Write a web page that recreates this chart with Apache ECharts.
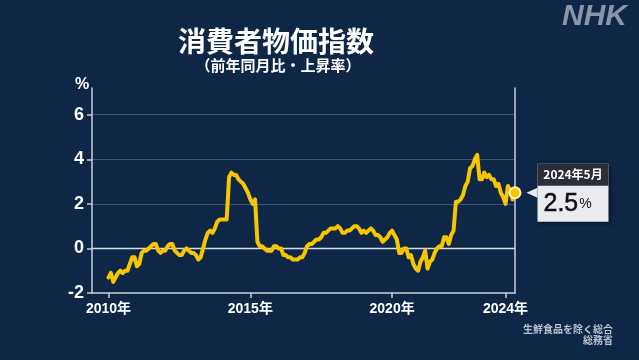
<!DOCTYPE html>
<html><head><meta charset="utf-8">
<script src="https://cdn.jsdelivr.net/npm/echarts@6/dist/echarts.min.js"></script>
<style>html,body{margin:0;padding:0;background:#0f2747;}#c{width:639px;height:360px;}</style>
</head><body><div id="c"></div>
<script>
// Core CPI (excluding fresh food), year-on-year %, monthly from Jan 2010
const cpi2010 = [-1.3, -1.1, -1.5, -1.3, -1.1, -1.0, -1.1, -1.0, -1.0, -0.7, -0.4, -0.4];
const cpi2011 = [-0.8, -0.7, -0.2, -0.1, -0.1, 0.0, 0.1, 0.2, 0.2, -0.1, -0.2, -0.1];
const cpi2012 = [-0.1, 0.1, 0.2, 0.2, -0.1, -0.2, -0.3, -0.3, -0.1, 0.0, -0.1, -0.2];
const cpi2013 = [-0.2, -0.3, -0.5, -0.4, 0.0, 0.4, 0.7, 0.8, 0.7, 0.9, 1.2, 1.3];
const cpi2014 = [1.3, 1.3, 1.3, 3.2, 3.4, 3.3, 3.3, 3.1, 3.0, 2.9, 2.7, 2.5];
const cpi2015 = [2.2, 2.0, 2.2, 0.3, 0.1, 0.1, 0.0, -0.1, -0.1, -0.1, 0.1, 0.1];
const cpi2016 = [0.0, 0.0, -0.3, -0.3, -0.4, -0.4, -0.5, -0.5, -0.5, -0.4, -0.4, -0.2];
const cpi2017 = [0.1, 0.2, 0.2, 0.3, 0.4, 0.4, 0.5, 0.7, 0.7, 0.8, 0.9, 0.9];
const cpi2018 = [0.9, 1.0, 0.9, 0.7, 0.7, 0.8, 0.8, 0.9, 1.0, 1.0, 0.9, 0.7];
const cpi2019 = [0.8, 0.7, 0.8, 0.9, 0.8, 0.6, 0.6, 0.5, 0.3, 0.4, 0.5, 0.7];
const cpi2020 = [0.8, 0.6, 0.4, -0.2, -0.2, 0.0, 0.0, -0.4, -0.3, -0.7, -0.9, -1.0];
const cpi2021 = [-0.6, -0.4, -0.1, -0.9, -0.6, -0.5, -0.2, 0.0, 0.1, 0.1, 0.5, 0.5];
const cpi2022 = [0.2, 0.6, 0.8, 2.1, 2.1, 2.2, 2.4, 2.8, 3.0, 3.6, 3.7, 4.0];
const cpi2023 = [4.2, 3.1, 3.1, 3.4, 3.2, 3.3, 3.1, 3.1, 2.8, 2.9, 2.5, 2.3];
const cpi2024 = [2.0, 2.8, 2.6, 2.2, 2.5];

const startYear = 2010;
const tickYears = [2010, 2015, 2020, 2024];
const yTicks = [-2, 0, 2, 4, 6];
const lastLabel = '2024年5月';
const titleText = '消費者物価指数';
const subtitleText = '（前年同月比・上昇率）';
const sourceText = '生鮮食品を除く総合\n総務省';

const values = [].concat(cpi2010, cpi2011, cpi2012, cpi2013, cpi2014, cpi2015, cpi2016,
  cpi2017, cpi2018, cpi2019, cpi2020, cpi2021, cpi2022, cpi2023, cpi2024);
const lastIdx = values.length - 1;
const lastVal = values[lastIdx];
const xMin = -7;

const FONT = '"Liberation Sans", "Noto Sans CJK JP", sans-serif';
const JP = '"Noto Sans CJK JP", sans-serif';
const yellow = '#f7c600';
const axisColor = '#c8cfd9';

const chart = echarts.init(document.getElementById('c'), null, { renderer: 'canvas' });
chart.setOption({
  backgroundColor: '#0f2747',
  animation: false,
  title: [
    { text: titleText, left: 271, top: 22, textAlign: 'center',
      textStyle: { color: '#ffffff', fontFamily: JP, fontWeight: 'bold', fontSize: 28 } },
    { text: subtitleText, left: 273, top: 53, textAlign: 'center',
      textStyle: { color: '#ffffff', fontFamily: JP, fontWeight: 'bold', fontSize: 15 } },
    { text: 'NHK', right: 7, top: -3,
      textStyle: { color: '#8b95a5', fontFamily: FONT, fontWeight: 900, fontStyle: 'italic', fontSize: 30 } },
    { text: '%', left: 70, top: 72,
      textStyle: { color: '#ffffff', fontFamily: FONT, fontWeight: 'bold', fontSize: 16 } },
    { text: sourceText, left: 608, top: 319, textAlign: 'right',
      textStyle: { color: '#b9c2cf', fontFamily: JP, fontWeight: 'bold', fontSize: 10, lineHeight: 11, align: 'right' } }
  ],
  grid: { left: 92, right: 124, top: 88, bottom: 67, containLabel: false },
  xAxis: {
    type: 'value', min: xMin, max: lastIdx,
    axisLine: { show: true, onZero: false, lineStyle: { color: axisColor, width: 1.5 } },
    axisTick: { show: true, length: 5, customValues: tickYears.map(y => (y - startYear) * 12),
      lineStyle: { color: axisColor, width: 1.5 } },
    axisLabel: { customValues: tickYears.map(y => (y - startYear) * 12),
      formatter: v => (startYear + Math.round(v / 12)) + '年',
      color: '#ffffff', fontFamily: FONT, fontWeight: 'bold', fontSize: 14, margin: 9 },
    splitLine: { show: false }
  },
  yAxis: [
    {
      type: 'value', min: -2, max: 7.2, interval: 2, position: 'left',
      axisLine: { show: true, onZero: false, lineStyle: { color: axisColor, width: 1.5 } },
      axisTick: { show: true, length: 5, customValues: yTicks, lineStyle: { color: axisColor, width: 1.5 } },
      axisLabel: { customValues: yTicks, color: '#ffffff', fontFamily: FONT, fontWeight: 'bold', fontSize: 18, margin: 8 },
      splitLine: { show: true, showMinLine: false, showMaxLine: true,
        lineStyle: { color: '#3b5576', width: 1.2 } }
    },
    {
      type: 'value', min: -2, max: 7.2, position: 'right',
      axisLine: { show: true, onZero: false, lineStyle: { color: axisColor, width: 1.5 } },
      axisTick: { show: false }, axisLabel: { show: false }, splitLine: { show: false }
    }
  ],
  series: [
    {
      type: 'line', data: [[xMin, 0], [lastIdx, 0]], yAxisIndex: 0,
      showSymbol: false, symbol: 'none', silent: true, z: 2,
      lineStyle: { color: '#d5dbe3', width: 1.5 }
    },
    {
      type: 'line', data: values.map((v, i) => [i, v]), yAxisIndex: 0,
      showSymbol: false, symbol: 'none',
      lineStyle: { color: yellow, width: 4, join: 'round', cap: 'round' },
      itemStyle: { color: yellow },
      z: 5
    },
    {
      type: 'scatter', yAxisIndex: 0, z: 10,
      data: [[lastIdx, lastVal]],
      symbol: 'circle', symbolSize: 11,
      itemStyle: { color: yellow, borderColor: '#fff1b8', borderWidth: 2, opacity: 1 },
      label: {
        show: true, position: 'right', distance: 16,
        formatter: p => '{h|' + lastLabel + '}\n{v|' + p.value[1].toFixed(1) + '}{p|%}',
        backgroundColor: '#e9ebef', padding: 0,
        shadowBlur: 4, shadowColor: 'rgba(0,0,0,0.45)', shadowOffsetX: 2, shadowOffsetY: 2,
        rich: {
          h: { color: '#ffffff', fontFamily: JP, fontWeight: 'bold', fontSize: 12, backgroundColor: '#2a2f37',
               width: 71, height: 22, lineHeight: 22, align: 'center' },
          v: { color: '#111111', fontFamily: FONT, fontSize: 25, fontWeight: 'normal', height: 30, lineHeight: 30, padding: [0, 0, 0, 6],
               textBorderColor: '#111111', textBorderWidth: 0.5 },
          p: { color: '#111111', fontFamily: FONT, fontSize: 14, height: 30, lineHeight: 36, padding: [0, 0, 0, 1] }
        }
      },
      markPoint: {
        silent: true,
        data: [{ coord: [lastIdx, lastVal], symbol: 'triangle', symbolSize: [10, 11], symbolRotate: 90,
                 symbolOffset: [17, 0], itemStyle: { color: '#e9ebef' }, label: { show: false } }]
      }
    }
  ]
});
</script>
</body></html>
